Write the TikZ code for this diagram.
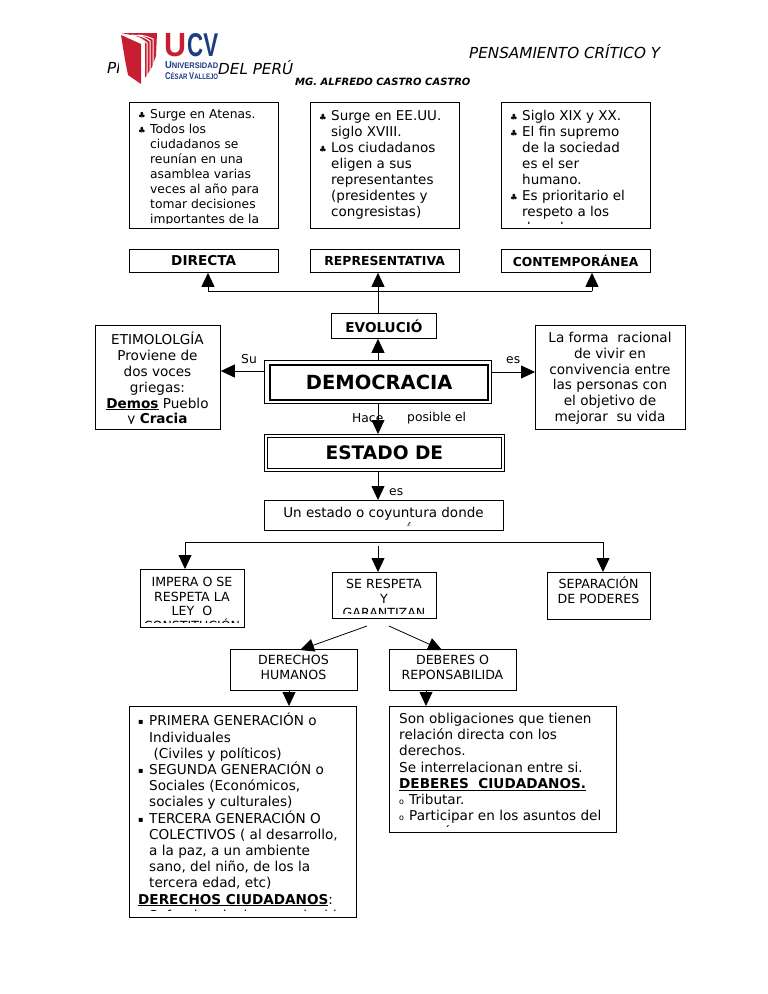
\documentclass[tikz,border=0pt]{standalone}
\usepackage{fontspec}
\setmainfont{DejaVu Sans}
\newfontfamily\logofont{Liberation Sans}
\usetikzlibrary{arrows.meta}
\definecolor{ucvred}{RGB}{200,30,50}
\definecolor{ucvblue}{RGB}{30,60,130}
\tikzset{
 x=1pt,y=-1pt,
 plainbox/.style={draw,thick,rectangle,inner sep=0pt,anchor=north west},
 bodytxt/.style={inner sep=0pt,align=left,anchor=north west},
 midtxt/.style={inner sep=0pt,align=center,anchor=north},
 conn/.style={thick,-{Triangle[length=14pt,width=13pt]}},
 lbl/.style={inner sep=0pt,font=\fontsize{12.3}{14}\selectfont},
 hdr/.style={inner sep=0pt,anchor=west,font=\fontsize{15.2}{17}\selectfont\itshape}
}
\newcommand{\fs}[2]{\fontsize{#1}{#2}\selectfont}
\newcommand{\clb}[1]{\makebox[#1][l]{\fontsize{8.5}{8.5}\selectfont ♣}}
\newcommand{\sqb}{\makebox[11pt][l]{\raisebox{1pt}{\fontsize{8}{8}\selectfont ▪}}}
\newcommand{\ocb}{\makebox[10pt][l]{\fontsize{8}{8}\selectfont o}}
% box node + text clipped just inside it: [inset], name, x, y, w, h, text node
\newcommand{\cbox}[7][4.5]{
 \node[plainbox,minimum width=#5,minimum height=#6] (#2) at (#3,#4) {};
 \begin{scope}
 \clip (#3,#4) rectangle ++(#5,#6-#1);
 #7
 \end{scope}
}
\begin{document}
\begin{tikzpicture}
\useasboundingbox (0,0) rectangle (768,994);
% header
\node[hdr] (hdra) at (469,52) {PENSAMIENTO CRÍTICO Y};
\node[hdr] (hdrb) at (107,68) {PR};
\node[hdr] (hdrc) at (218,68) {DEL PERÚ};
\node[inner sep=0pt,anchor=west,font=\fs{10}{11}\bfseries\itshape] (hdrd) at (295,82) {MG. ALFREDO CASTRO CASTRO};
% logo
\fill[white] (119,33) rectangle (218,84);
\fill[ucvred] (121,35) -- (141,44) -- (141,84) -- (128,75) .. controls (125,60) .. (121,35);
\fill[ucvred] (121,33) -- (157,33) -- (156,56) -- (152,67) -- (145,78) -- (145,42) .. controls (137,36) .. (121,33);
\draw[white,line width=1pt] (125,35) .. controls (139,37) .. (147,43) -- (147,76);
\draw[white,line width=1pt] (131,35) .. controls (142,36) .. (150,41) -- (150,71);
\draw[white,line width=1pt] (138,35) .. controls (146,36) .. (153,39) -- (153,65);
\node[inner sep=0pt,anchor=north west,text=ucvred] (logoa) at (164,33) {\resizebox{22pt}{23pt}{\logofont\bfseries U}};
\node[inner sep=0pt,anchor=north west,text=ucvblue] (logob) at (187,33) {\resizebox{31pt}{23pt}{\logofont\bfseries CV}};
\node[inner sep=0pt,anchor=north west,text=ucvblue] (logoc) at (165,61) {\resizebox{53pt}{7pt}{\logofont\bfseries U\fs{8}{8}NIVERSIDAD}};
\node[inner sep=0pt,anchor=north west,text=ucvblue] (logod) at (165,72) {\resizebox{53pt}{7pt}{\logofont\bfseries C\fs{8}{8}ÉSAR \fs{10}{10}V\fs{8}{8}ALLEJO}};
% top row
\cbox{dira}{129}{102}{148.5}{126}{\node[bodytxt,font=\fs{12.3}{15}] (dirt) at (138,109) {\clb{12pt}Surge en Atenas.\\\clb{12pt}Todos los\\\hspace*{12pt}ciudadanos se\\\hspace*{12pt}reunían en una\\\hspace*{12pt}asamblea varias\\\hspace*{12pt}veces al año para\\\hspace*{12pt}tomar decisiones\\\hspace*{12pt}importantes de la\\\hspace*{12pt}ciudad};}
\cbox{repa}{310}{102}{148.5}{126}{\node[bodytxt,font=\fs{13.5}{16}] (rept) at (319,110.5) {\clb{12pt}Surge en EE.UU.\\\hspace*{12pt}siglo XVIII.\\\clb{12pt}Los ciudadanos\\\hspace*{12pt}eligen a sus\\\hspace*{12pt}representantes\\\hspace*{12pt}(presidentes y\\\hspace*{12pt}congresistas)};}
\cbox{cona}{501}{102}{148.5}{126}{\node[bodytxt,font=\fs{13.5}{16}] (cont) at (510,110.5) {\clb{12pt}Siglo XIX y XX.\\\clb{12pt}El fin supremo\\\hspace*{12pt}de la sociedad\\\hspace*{12pt}es el ser\\\hspace*{12pt}humano.\\\clb{12pt}Es prioritario el\\\hspace*{12pt}respeto a los\\\hspace*{12pt}derechos};}
% heads
\node[plainbox,minimum width=148.5,minimum height=23,font=\fs{13.6}{15}\bfseries] (dir) at (129,249) {DIRECTA};
\node[plainbox,minimum width=148.5,minimum height=23,font=\fs{12.4}{14}\bfseries] (rep) at (310,249) {REPRESENTATIVA};
\node[plainbox,minimum width=148.5,minimum height=23,font=\fs{12.3}{14}\bfseries] (con) at (501,249) {CONTEMPORÁNEA};
\node[plainbox,minimum width=105,minimum height=25,font=\fs{13.6}{15}\bfseries] (evo) at (331,313) {EVOLUCIÓ};
% centre
\node[plainbox,minimum width=227,minimum height=43] (demo) at (264,360) {};
\node[draw,line width=2.4pt,inner sep=0pt,anchor=north west,minimum width=218,minimum height=35,font=\fs{19.5}{22}\bfseries] (demob) at (269,364) {\raisebox{-2pt}{DEMOCRACIA}};
\node[plainbox,minimum width=240,minimum height=37] (est) at (264,434) {};
\node[plainbox,minimum width=234,minimum height=31,font=\fs{18.6}{21}\bfseries] (estb) at (267,437) {ESTADO DE};
\cbox[6]{etim}{95}{325}{125}{104}{\node[midtxt,font=\fs{13.6}{15.8}] (etimt) at (157.5,332) {ETIMOLOLGÍA\\Proviene de\\dos voces\\griegas:\\\textbf{\underline{Demos}} Pueblo\\y \textbf{Cracia}};}
\cbox[6]{rac}{535}{325}{150}{104}{\node[midtxt,font=\fs{13.6}{15.8}] (ract) at (610,332) {La forma\ \ racional\\de vivir en\\convivencia entre\\las personas con\\el objetivo de\\mejorar\ \ su vida};}
\cbox{coy}{264}{500}{239}{30}{\node[midtxt,font=\fs{13.5}{16}] (coyt) at (383.5,507) {Un estado o coyuntura donde\\\hspace*{50pt}é};}
% third row
\cbox{imp}{140}{569}{104}{58}{\node[midtxt,font=\fs{12.6}{14.6}] (impt) at (192,577) {IMPERA O SE\\RESPETA LA\\LEY\ \ O\\CONSTITUCIÓN};}
\cbox{res}{332}{572}{104}{46}{\node[midtxt,font=\fs{12.6}{14.6}] (rest) at (384,579) {SE RESPETA\\Y\\GARANTIZAN};}
\cbox{sep}{547}{572}{103}{47}{\node[midtxt,font=\fs{12.6}{14.6}] (sept) at (598.5,577) {SEPARACIÓN\\DE PODERES};}
\cbox{der}{230}{649}{127}{41}{\node[midtxt,font=\fs{12.6}{15}] (dert) at (293.5,655) {DERECHOS\\HUMANOS};}
\cbox{deb}{389}{649}{127}{41}{\node[midtxt,font=\fs{12.6}{15}] (debt) at (452.5,655) {DEBERES O\\REPONSABILIDA};}
% bottom row
\cbox[7]{derb}{129}{706}{227}{211}{\node[bodytxt,font=\fs{13.6}{16.2}] (derbt) at (138,713) {\sqb PRIMERA GENERACIÓN o\\\hspace*{11pt}Individuales\\\hspace*{11pt}\ (Civiles y políticos)\\\sqb SEGUNDA GENERACIÓN o\\\hspace*{11pt}Sociales (Económicos,\\\hspace*{11pt}sociales y culturales)\\\sqb TERCERA GENERACIÓN O\\\hspace*{11pt}COLECTIVOS ( al desarrollo,\\\hspace*{11pt}a la paz, a un ambiente\\\hspace*{11pt}sano, del niño, de los la\\\hspace*{11pt}tercera edad, etc)\\\textbf{\underline{DERECHOS CIUDADANOS}}:\\\hspace*{11pt}Sufragio, elegir y ser elegido};}
\cbox[6]{debb}{389}{706}{227}{126}{\node[bodytxt,font=\fs{13.6}{16.2}] (debbt) at (399,713) {Son obligaciones que tienen\\relación directa con los\\derechos.\\Se interrelacionan entre si.\\\textbf{\underline{DEBERES\ \ CIUDADANOS.}}\\\ocb Tributar.\\\ocb Participar en los asuntos del\\\hspace*{29pt}país};}
% connectors
\coordinate (busl) at (208,291);
\coordinate (busr) at (592,291);
\draw[conn] (busl) -- (busl |- dir.south);
\draw[conn] (busr) -- (busr |- con.south);
\draw[thick] (busl) -- (busr);
\coordinate (evot) at (378,313);
\coordinate (demt) at (378,360);
\coordinate (demd) at (378,403);
\coordinate (estd) at (378,471);
\draw[conn] (evot) -- (evot |- rep.south);
\draw[conn] (demt) -- (demt |- evo.south);
\draw[conn] (demo.west |- 0,371) -- (etim.east |- 0,371);
\draw[conn] (demo.east |- 0,372) -- (rac.west |- 0,372);
\draw[conn] (demd) -- (demd |- est.north);
\draw[conn] (estd) -- (estd |- coy.north);
\coordinate (trl) at (185,542);
\coordinate (trr) at (603,542);
\coordinate (trm) at (378,546);
\draw[thick] (trl) -- (trr);
\draw[conn] (trl) -- (trl |- imp.north);
\draw[conn] (trm) -- (trm |- res.north);
\draw[conn] (trr) -- (trr |- sep.north);
\coordinate (spa) at (367,626);
\coordinate (spb) at (389,626);
\draw[conn] (spa) -- (300,650);
\draw[conn] (spb) -- (442,650);
\coordinate (dera) at (289,690);
\coordinate (deba) at (426,690);
\draw[conn] (dera) -- (dera |- derb.north);
\draw[conn] (deba) -- (deba |- debb.north);
% labels
\node[lbl,anchor=west] (lsu) at (241,359) {Su};
\node[lbl,anchor=west] (les) at (506,360) {es};
\node[lbl,anchor=west] (lha) at (352,418) {Hace};
\node[lbl,anchor=west] (lpo) at (407,418) {posible el};
\node[lbl,anchor=west] (lesb) at (389,492) {es};
\end{tikzpicture}
\end{document}
